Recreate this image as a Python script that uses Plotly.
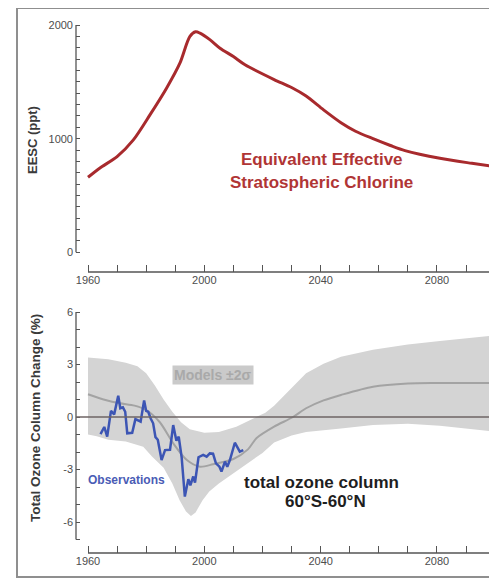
import plotly.graph_objects as go

# ---------------- data ----------------
EESC_YEARS = [1960, 1964, 1970, 1975.6, 1981.3, 1987, 1991.6, 1995, 1997, 1998.5,
              2002, 2005.4, 2010, 2014, 2024, 2030, 2035, 2041, 2047, 2052, 2058,
              2064, 2069, 2081, 2092, 2100]
EESC_PPT = [660, 740, 842, 989, 1209, 1444, 1664, 1898, 1940, 1928,
            1869, 1796, 1722, 1650, 1520, 1450, 1375, 1253, 1140, 1065, 1000,
            940, 895, 827, 783, 754]

BAND_UP_YEARS = [1960, 1967, 1973, 1977, 1980, 1983, 1986, 1989, 1992, 1995, 2000,
                 2005, 2011, 2016, 2021, 2024, 2029, 2035, 2041, 2047, 2058, 2070,
                 2081, 2090, 2099]
BAND_UP = [3.4, 3.3, 3.1, 2.9, 2.5, 1.8, 1.0, 0.3, -0.3, -0.7, -0.9,
           -0.85, -0.55, -0.15, 0.25, 0.65, 1.5, 2.5, 3.05, 3.45, 3.85, 4.15,
           4.35, 4.5, 4.65]
BAND_LO_YEARS = [1960, 1963, 1967, 1973, 1979, 1982, 1986, 1989, 1991.5, 1993.7,
                 1995.4, 1997, 1999.4, 2001.7, 2005, 2010, 2015, 2020, 2024, 2030,
                 2035, 2047, 2058, 2070, 2081, 2092, 2099]
BAND_LO = [-1.0, -1.1, -1.3, -1.4, -1.7, -2.25, -2.9, -3.8, -4.75, -5.4,
           -5.65, -5.45, -4.75, -4.25, -3.8, -3.2, -2.65, -2.05, -1.45, -1.05,
           -0.85, -0.65, -0.46, -0.38, -0.5, -0.7, -0.82]

MEAN_YEARS = [1960, 1966, 1971, 1976, 1980, 1984.7, 1989.3, 1994, 1998.5, 2003,
              2010, 2015, 2018, 2024, 2030.5, 2035, 2041, 2047, 2058, 2070,
              2080, 2099]
MEAN = [1.3, 0.97, 0.78, 0.65, 0.4, -0.3, -1.5, -2.46, -2.84, -2.7,
        -2.4, -1.85, -1.2, -0.55, 0.0, 0.5, 0.95, 1.26, 1.73, 1.92,
        1.95, 1.95]

OBS_YEARS = [1964.3, 1965.6, 1966.6, 1967.9, 1969.0, 1969.6, 1970.4, 1971.1, 1972.0,
             1972.8, 1973.5, 1975.2, 1976.3, 1978.1, 1979.3, 1980.0, 1980.7, 1981.6,
             1982.4, 1983.2, 1984.0, 1985.3, 1986.5, 1988.2, 1989.3, 1990.4, 1991.2,
             1992.2, 1993.3, 1994.5, 1995.2, 1996.2, 1996.8, 1998.0, 1999.6, 2000.8,
             2001.9, 2003.0, 2004.0, 2005.2, 2005.9, 2007.1, 2007.9, 2008.8, 2010.5,
             2012.2, 2013.4]
OBS = [-0.98, -0.57, -1.12, 0.35, 0.15, 0.55, 1.22, 0.50, 0.55,
       0.30, -0.93, -0.90, -0.12, -0.27, 0.95, 0.35, 0.30, -0.10,
       -0.36, -1.15, -1.30, -2.46, -1.89, -1.87, -0.46, -1.35, -1.12,
       -2.30, -4.55, -3.55, -3.90, -3.40, -3.75, -2.30, -2.17, -2.27,
       -2.08, -2.10, -2.65, -2.84, -3.12, -2.55, -2.84, -2.46, -1.47,
       -1.98, -1.89]

X_MAJOR = [1960, 2000, 2040, 2080]
X_LABELS = ["1960", "2000", "2040", "2080"]
X_MINOR = [1970, 1980, 1990, 2010, 2020, 2030, 2050, 2060, 2070, 2090, 2100]

EESC_MAJOR = [0, 1000, 2000]
EESC_LABELS = ["0", "1000", "2000"]
EESC_MINOR = [v for v in range(100, 2000, 100) if v != 1000]

OZ_MAJOR = [-6, -3, 0, 3, 6]
OZ_LABELS = ["-6", "-3", "0", "3", "6"]
OZ_MINOR = [-7, -5, -4, -2, -1, 1, 2, 4, 5]

# ---------------- styling helpers ----------------
# The page body has an 8px margin, so the figure is drawn 8px in from the
# window's top-left corner; the figure is sized so that the window is filled.
OFF = 8
W, H = 497 - OFF, 579 - OFF
ML, MR, MT, MB = 76 - OFF, 1, 20 - OFF, 26
PW, PH = W - ML - MR, H - MT - MB
FONT = "Liberation Sans, Arial, Helvetica, sans-serif"
AX = "#555555"
TICKFONT = dict(family=FONT, size=11, color="#4d4d4d")


def fx(px):  # window pixel -> paper x
    return (px - OFF - ML) / PW


def fy(py):  # window pixel -> paper y
    return (H - MB - (py - OFF)) / PH


fig = go.Figure()

# top panel
fig.add_trace(go.Scatter(x=EESC_YEARS, y=EESC_PPT, mode="lines",
                         line=dict(color="#a82a2d", width=3, shape="spline", smoothing=0.8),
                         xaxis="x", yaxis="y", hoverinfo="skip"))

# bottom panel
fig.add_trace(go.Scatter(x=BAND_UP_YEARS + BAND_LO_YEARS[::-1],
                         y=BAND_UP + BAND_LO[::-1], mode="lines", fill="toself",
                         fillcolor="#d4d4d4", line=dict(width=0, color="#d4d4d4"),
                         xaxis="x2", yaxis="y2", hoverinfo="skip"))
fig.add_trace(go.Scatter(x=MEAN_YEARS, y=MEAN, mode="lines",
                         line=dict(color="#a3a3a3", width=2, shape="spline", smoothing=0.8),
                         xaxis="x2", yaxis="y2", hoverinfo="skip"))
fig.add_trace(go.Scatter(x=OBS_YEARS, y=OBS, mode="lines",
                         line=dict(color="#3c55b4", width=2.5),
                         xaxis="x2", yaxis="y2", hoverinfo="skip"))

x_left = 1960 - 12 / 2.908
x_right = x_left + PW / 2.908


def all_ticks(major, labels, minor):
    vals = sorted(major + minor)
    text = [labels[major.index(v)] if v in major else "" for v in vals]
    return vals, text


def xax(anchor, overlay=None):
    d = dict(range=[x_left, x_right], anchor=anchor, automargin=False,
             ticks="inside", tickwidth=1.2, tickcolor=AX,
             showgrid=False, zeroline=False, showline=False,
             tickfont=TICKFONT, ticklabelstandoff=0, fixedrange=True)
    if overlay:
        d.update(overlaying=overlay, tickmode="array", tickvals=X_MAJOR,
                 ticklen=12, showticklabels=False)
    else:
        vals, text = all_ticks(X_MAJOR, X_LABELS, X_MINOR)
        d.update(domain=[0, 1], tickmode="array", tickvals=vals, ticktext=text,
                 ticklen=7)
    return d


def yax(anchor, dom, rng, major, labels, minor, overlay=None):
    d = dict(range=rng, anchor=anchor, automargin=False,
             ticks="inside", tickwidth=1.2, tickcolor=AX,
             showgrid=False, zeroline=False, showline=False,
             tickfont=TICKFONT, ticklabelstandoff=2, fixedrange=True)
    if overlay:
        d.update(overlaying=overlay, side="left", tickmode="array", tickvals=major,
                 ticklen=8, showticklabels=False)
    else:
        vals, text = all_ticks(major, labels, minor)
        d.update(domain=dom, tickmode="array", tickvals=vals, ticktext=text,
                 ticklen=4)
    return d


top_dom = [fy(272), 1]
bot_dom = [0, fy(305)]
top_rng = [(252.3 - 272) / 0.11365, (252.3 - 20) / 0.11365]
bot_rng = [(417 - 553) / 17.5, (417 - 305) / 17.5]

shapes = [
    # spines
    dict(type="line", xref="x domain", yref="y", x0=0, x1=0, y0=0, y1=2000,
         line=dict(color=AX, width=1.3)),
    dict(type="line", xref="x", yref="y domain", x0=1960, x1=2100, y0=0, y1=0,
         line=dict(color=AX, width=1.3)),
    dict(type="line", xref="x2 domain", yref="y2", x0=0, x1=0, y0=-7, y1=6,
         line=dict(color=AX, width=1.3)),
    dict(type="line", xref="x2", yref="y2 domain", x0=1960, x1=2100, y0=0, y1=0,
         line=dict(color=AX, width=1.3)),
    # zero line
    dict(type="line", xref="x2 domain", yref="y2", x0=0, x1=1, y0=0, y1=0,
         line=dict(color="#6e6464", width=1.5), layer="above"),
    # outer frame
    dict(type="rect", xref="paper", yref="paper", x0=fx(17), x1=fx(496),
         y0=fy(577), y1=fy(8), line=dict(color="#8f8f8f", width=2)),
]


def ann(text, px, py, size, color, angle=0, bg=None):
    d = dict(text=f"<b>{text}</b>", xref="paper", yref="paper", x=fx(px), y=fy(py),
             xanchor="center", yanchor="middle", showarrow=False, textangle=angle,
             font=dict(family=FONT, size=size, color=color))
    if bg:
        d.update(bgcolor=bg, borderpad=1)
    return d


annotations = [
    ann("EESC (ppt)", 32, 140, 13, "#3a3a3a", -90),
    ann("Total Ozone Column Change (%)", 35, 418, 13.5, "#3a3a3a", -90),
    ann("Equivalent Effective", 322, 160, 17, "#b03535"),
    ann("Stratospheric Chlorine", 321, 182, 17, "#b03535"),
    ann("Models ±2σ", 212.5, 375, 14, "#a9a9a9", bg="#cacaca"),
    ann("Observations", 126.5, 480, 12, "#4a5cb5"),
    ann("total ozone column", 321, 482, 17, "#1e1e1e"),
    ann("60°S-60°N", 325, 501, 17, "#1e1e1e"),
]

fig.update_layout(
    template="none",
    width=W, height=H, autosize=False,
    margin=dict(l=ML, r=MR, t=MT, b=MB, pad=0, autoexpand=False),
    paper_bgcolor="white", plot_bgcolor="white", showlegend=False,
    xaxis=xax("y"),
    yaxis=yax("x", top_dom, top_rng, EESC_MAJOR, EESC_LABELS, EESC_MINOR),
    xaxis2=xax("y2"),
    yaxis2=yax("x2", bot_dom, bot_rng, OZ_MAJOR, OZ_LABELS, OZ_MINOR),
    xaxis3=xax("y", overlay="x"),
    yaxis3=yax("x", top_dom, top_rng, EESC_MAJOR, EESC_LABELS, EESC_MINOR, overlay="y"),
    xaxis4=xax("y2", overlay="x2"),
    yaxis4=yax("x2", bot_dom, bot_rng, OZ_MAJOR, OZ_LABELS, OZ_MINOR, overlay="y2"),
    shapes=shapes, annotations=annotations,
    font=dict(family=FONT),
)

fig.write_html("out.html")
